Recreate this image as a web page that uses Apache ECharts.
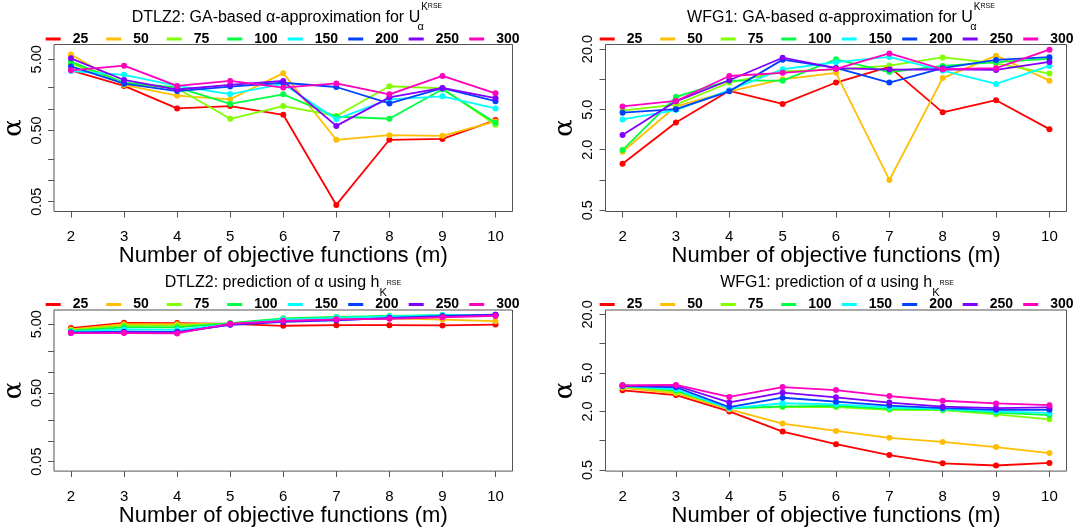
<!DOCTYPE html>
<html>
<head>
<meta charset="utf-8">
<title>GA-based α approximation and prediction</title>
<script src="https://cdn.jsdelivr.net/npm/echarts@6/dist/echarts.min.js"></script>
<style>
  html, body { margin: 0; padding: 0; background: #fff; }
  #chart { width: 1083px; height: 528px; }
</style>
</head>
<body>
<div id="chart"></div>
<script>
// Number of objective functions on the x axis
const objectives = [2, 3, 4, 5, 6, 7, 8, 9, 10];
// Population sizes (one line each)
const popSizes = ['25', '50', '75', '100', '150', '200', '250', '300'];

// DTLZ2: GA-based alpha approximation (rows follow popSizes)
const dtlz2Ga = [
  [3.5, 2.11, 1.02, 1.10, 0.83, 0.045, 0.37, 0.38, 0.70],
  [5.84, 2.18, 1.54, 1.37, 3.19, 0.37, 0.43, 0.42, 0.67],
  [4.37, 2.25, 1.96, 0.73, 1.10, 0.80, 2.09, 1.95, 0.60],
  [4.63, 2.35, 2.01, 1.18, 1.61, 0.78, 0.73, 1.90, 0.64],
  [3.42, 3.02, 2.11, 1.62, 2.25, 0.72, 1.37, 1.51, 1.02],
  [3.96, 2.27, 1.79, 2.07, 2.34, 2.04, 1.20, 1.96, 1.29],
  [5.16, 2.56, 1.88, 2.18, 2.48, 0.58, 1.46, 1.98, 1.42],
  [3.5, 4.06, 2.11, 2.48, 2.0, 2.29, 1.61, 2.92, 1.66]
];

// WFG1: GA-based alpha approximation
const wfg1Ga = [
  [1.45, 3.72, 7.7, 5.7, 9.3, 13.3, 4.7, 6.2, 3.2],
  [1.91, 5.4, 7.6, 10.0, 11.6, 1.0, 10.3, 17.2, 9.7],
  [4.88, 5.6, 9.3, 12.0, 12.5, 13.7, 16.5, 14.4, 11.4],
  [1.98, 6.7, 9.7, 9.7, 15.8, 11.8, 13.6, 14.8, 16.0],
  [4.0, 4.95, 7.8, 12.6, 14.8, 16.7, 12.2, 9.0, 13.6],
  [4.66, 5.05, 7.6, 15.7, 13.0, 9.3, 12.9, 15.6, 16.6],
  [2.8, 6.05, 9.8, 16.4, 12.9, 12.5, 12.6, 12.4, 14.9],
  [5.38, 6.1, 10.8, 11.6, 12.7, 18.1, 12.6, 12.9, 19.7]
];

// DTLZ2: predicted alpha
const dtlz2Pred = [
  [4.4, 5.25, 5.2, 5.05, 4.75, 4.85, 4.85, 4.8, 4.95],
  [4.2, 5.0, 5.0, 5.1, 5.7, 6.0, 6.1, 5.85, 5.55],
  [4.1, 4.75, 4.78, 5.15, 6.0, 6.3, 6.5, 6.7, 6.7],
  [4.0, 4.5, 4.5, 5.2, 6.1, 6.4, 6.6, 6.8, 6.8],
  [3.9, 4.2, 4.15, 5.0, 5.9, 6.2, 6.5, 6.8, 6.8],
  [3.8, 3.9, 3.88, 4.9, 5.4, 5.7, 6.2, 6.6, 6.9],
  [3.75, 3.8, 3.78, 4.95, 5.5, 5.8, 6.1, 6.4, 6.85],
  [3.72, 3.72, 3.68, 5.1, 5.6, 5.9, 6.0, 6.3, 6.6]
];

// WFG1: predicted alpha
const wfg1Pred = [
  [3.3, 2.95, 2.0, 1.24, 0.92, 0.71, 0.585, 0.555, 0.59],
  [3.5, 3.08, 2.1, 1.5, 1.26, 1.07, 0.97, 0.86, 0.745],
  [3.6, 3.2, 2.17, 2.22, 2.22, 2.08, 2.06, 1.87, 1.66],
  [3.75, 3.3, 2.17, 2.26, 2.28, 2.13, 2.1, 1.95, 1.84],
  [3.65, 3.38, 2.15, 2.43, 2.37, 2.2, 2.12, 2.0, 1.93],
  [3.65, 3.55, 2.22, 2.77, 2.52, 2.3, 2.17, 2.08, 2.08],
  [3.7, 3.68, 2.48, 3.13, 2.8, 2.47, 2.24, 2.17, 2.2],
  [3.72, 3.75, 2.82, 3.57, 3.32, 2.88, 2.58, 2.42, 2.32]
];

// Log-axis ticks and labelled ticks
const dtlzTicks = [5, 2, 1, 0.5, 0.2, 0.1, 0.05];
const dtlzLabels = [5, 0.5, 0.05];
const wfgTicks = [20, 10, 5, 2, 1, 0.5];
const wfgLabels = [20, 5, 2, 0.5];

const palette = ['#FF0000', '#FFBF00', '#80FF00', '#00FF40', '#00FFFF', '#0040FF', '#8000FF', '#FF00BF'];
const FONT = '"Liberation Sans", Arial, Helvetica, sans-serif';
const BOX = '#555';

const panels = [
  { title: 'DTLZ2: GA-based α-approximation for U{a|α}{k|K}{r|RSE}', sup: true,
    values: dtlz2Ga, left: 51.5, top: 44.5, yMin: 0.0364, yMax: 8.06, ticks: dtlzTicks, labels: dtlzLabels, digits: 2 },
  { title: 'WFG1: GA-based α-approximation for U{a|α}{k|K}{r|RSE}', sup: true,
    values: wfg1Ga, left: 605.5, top: 44.5, yMin: 0.486, yMax: 22.2, ticks: wfgTicks, labels: wfgLabels, digits: 1 },
  { title: 'DTLZ2: prediction of α using h{k|K}{r|RSE}', sup: false,
    values: dtlz2Pred, left: 51.5, top: 310, yMin: 0.0364, yMax: 8.06, ticks: dtlzTicks, labels: dtlzLabels, digits: 2 },
  { title: 'WFG1: prediction of α using h{k|K}{r|RSE}', sup: false,
    values: wfg1Pred, left: 605.5, top: 310, yMin: 0.486, yMax: 22.2, ticks: wfgTicks, labels: wfgLabels, digits: 1 }
];

const PW = 461, PH = 167;
const LEGEND_PITCH = 60.5;

const option = {
  animation: false,
  backgroundColor: '#fff',
  textStyle: { fontFamily: FONT },
  title: [], legend: [], grid: [], xAxis: [], yAxis: [], series: []
};

panels.forEach((p, i) => {
  const richTop = {
    a: { fontSize: 11, lineHeight: 16, verticalAlign: 'bottom', width: 1, fontFamily: FONT, color: '#000' },
    k: { fontSize: 10, lineHeight: 20, verticalAlign: 'top', fontFamily: FONT, color: '#000' },
    r: { fontSize: 7, lineHeight: 10, verticalAlign: 'top', fontFamily: FONT, color: '#000' }
  };
  const richBottom = {
    k: { fontSize: 11, lineHeight: 23, verticalAlign: 'bottom', fontFamily: FONT, color: '#000' },
    r: { fontSize: 7, lineHeight: 30, verticalAlign: 'middle', fontFamily: FONT, color: '#000' }
  };
  option.title.push({
    text: p.title,
    left: p.left + PW / 2 + (p.sup ? 5 : 1),
    top: p.top - 42,
    textAlign: 'center',
    padding: 0,
    textStyle: {
      fontSize: 16, fontWeight: 'normal', color: '#000', fontFamily: FONT, lineHeight: 30,
      rich: p.sup ? richTop : richBottom
    }
  });

  // One legend entry per slot so the entries sit on an even pitch
  popSizes.forEach((name, k) => {
    option.legend.push({
      data: [name],
      left: p.left - 5.8 + k * LEGEND_PITCH,
      top: p.top - 12.5,
      orient: 'horizontal',
      padding: 0,
      itemWidth: 15,
      itemHeight: 3,
      icon: 'rect',
      selectedMode: false,
      textStyle: { fontSize: 14, fontWeight: 'bold', color: '#000', fontFamily: FONT, padding: [0, 0, 0, 7] }
    });
  });

  option.grid.push({
    left: p.left, top: p.top, width: PW, height: PH,
    show: true, borderColor: BOX, borderWidth: 1, backgroundColor: 'transparent'
  });

  option.xAxis.push({
    type: 'value', gridIndex: i, min: 1.68, max: 10.32,
    name: 'Number of objective functions (m)', nameLocation: 'middle', nameGap: 32,
    nameTextStyle: { fontSize: 22, color: '#000', fontFamily: FONT },
    axisLine: { show: false },
    splitLine: { show: false },
    axisTick: { show: true, length: 6, lineStyle: { color: BOX }, customValues: objectives },
    axisLabel: { color: '#000', fontSize: 15, margin: 18, fontFamily: FONT, customValues: objectives }
  });

  option.yAxis.push({
    type: 'log', logBase: 10, gridIndex: i, min: p.yMin, max: p.yMax,
    name: 'α', nameLocation: 'middle', nameGap: 27, nameRotate: 90,
    nameTextStyle: { fontSize: 26, color: '#000', fontFamily: '"DejaVu Serif", "Liberation Serif", serif' },
    axisLine: { show: false },
    splitLine: { show: false },
    minorTick: { show: false },
    axisTick: { show: true, length: 6, lineStyle: { color: BOX }, customValues: p.ticks },
    axisLabel: {
      color: '#000', fontSize: 14.5, margin: 10, rotate: 90, fontFamily: FONT,
      customValues: p.labels,
      formatter: v => Number(v).toFixed(p.digits)
    }
  });

  popSizes.forEach((name, s) => {
    option.series.push({
      name: name,
      type: 'line',
      xAxisIndex: i, yAxisIndex: i,
      data: objectives.map((m, j) => [m, p.values[s][j]]),
      color: palette[s],
      lineStyle: { width: 1.8, color: palette[s] },
      itemStyle: { color: palette[s] },
      symbol: 'circle',
      symbolSize: 6,
      showSymbol: true,
      z: 2 + s
    });
  });
});

const chart = echarts.init(document.getElementById('chart'), null, { renderer: 'canvas' });
chart.setOption(option);
</script>
</body>
</html>
